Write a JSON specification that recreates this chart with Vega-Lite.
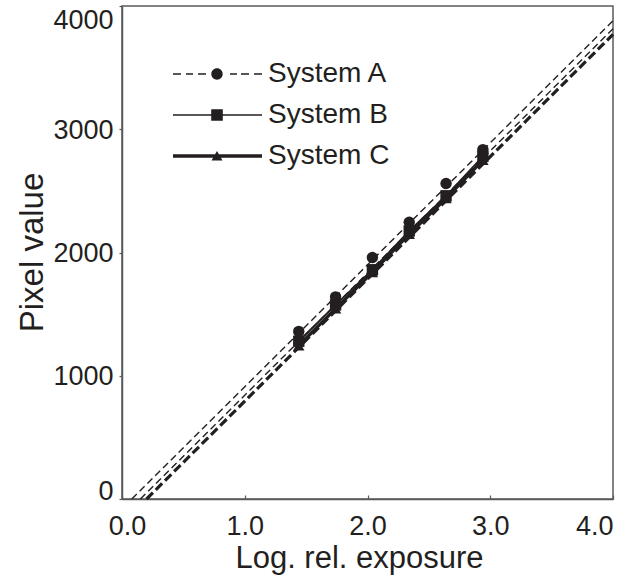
{
  "$schema": "https://vega.github.io/schema/vega-lite/v6.json",
  "width": 491,
  "height": 493,
  "autosize": {"type": "none"},
  "padding": {"left": 122, "top": 6, "right": 17, "bottom": 81},
  "background": "white",
  "config": {
    "view": {"stroke": "#58595b", "strokeWidth": 1.5},
    "font": "Liberation Sans",
    "axis": {
      "domainColor": "#58595b", "domainWidth": 1.5,
      "tickColor": "#58595b", "tickWidth": 1.2,
      "labelColor": "#231f20", "titleColor": "#231f20",
      "labelFont": "Liberation Sans", "titleFont": "Liberation Sans",
      "labelFontSize": 27, "titleFontSize": 30, "titleFontWeight": "normal",
      "grid": false, "labelFlush": false
    }
  },
  "datasets": {
    "fits": [
      {"system": "System A", "x": 0.08, "y": 0},
      {"system": "System A", "x": 4.0, "y": 3880},
      {"system": "System B", "x": 0.15, "y": 0},
      {"system": "System B", "x": 4.0, "y": 3815},
      {"system": "System C", "x": 0.2, "y": 0},
      {"system": "System C", "x": 4.0, "y": 3770}
    ],
    "points": [
      {"system": "System C", "x": 1.44, "y": 1245},
      {"system": "System C", "x": 1.74, "y": 1545},
      {"system": "System C", "x": 2.04, "y": 1840},
      {"system": "System C", "x": 2.34, "y": 2150},
      {"system": "System C", "x": 2.64, "y": 2440},
      {"system": "System C", "x": 2.94, "y": 2750},
      {"system": "System B", "x": 1.44, "y": 1280},
      {"system": "System B", "x": 1.74, "y": 1575},
      {"system": "System B", "x": 2.04, "y": 1860},
      {"system": "System B", "x": 2.34, "y": 2175},
      {"system": "System B", "x": 2.64, "y": 2460},
      {"system": "System B", "x": 2.94, "y": 2780},
      {"system": "System A", "x": 1.44, "y": 1360},
      {"system": "System A", "x": 1.74, "y": 1640},
      {"system": "System A", "x": 2.04, "y": 1960},
      {"system": "System A", "x": 2.34, "y": 2245},
      {"system": "System A", "x": 2.64, "y": 2560},
      {"system": "System A", "x": 2.94, "y": 2835}
    ]
  },
  "layer": [
    {
      "data": {"name": "fits"},
      "transform": [{"filter": "datum.system === 'System A'"}],
      "mark": {"type": "line", "color": "#231f20", "strokeWidth": 1.4, "strokeDash": [7, 4]},
      "encoding": {
        "x": {
          "field": "x", "type": "quantitative",
          "scale": {"domain": [0, 4], "nice": false, "zero": false},
          "axis": {
            "title": "Log. rel. exposure",
            "values": [0, 1, 2, 3, 4], "format": ".1f",
            "tickSize": -4, "labelPadding": 18,
            "labelAlign": {"condition": {"test": "datum.value === 4", "value": "right"}, "value": "center"},
            "labelOffset": {"condition": {"test": "datum.value === 0", "value": 5}, "value": 0},
            "titleFontSize": 31, "titleAnchor": "start", "titleAlign": "center", "titleBaseline": "alphabetic",
            "titleX": 237, "titleY": 68
          }
        },
        "y": {
          "field": "y", "type": "quantitative",
          "scale": {"domain": [0, 4000], "nice": false},
          "axis": {
            "title": "Pixel value",
            "values": [0, 1000, 2000, 3000, 4000], "format": "d",
            "tickSize": 3, "labelPadding": 6,
            "labelOffset": {"condition": [{"test": "datum.value === 4000", "value": 14}, {"test": "datum.value === 0", "value": -8}], "value": 1},
            "titleFontSize": 33,
            "titleAngle": -90, "titleAlign": "center", "titleBaseline": "alphabetic",
            "titleX": -80, "titleY": 246
          }
        }
      }
    },
    {
      "data": {"name": "fits"},
      "transform": [{"filter": "datum.system === 'System B'"}],
      "mark": {"type": "line", "color": "#231f20", "strokeWidth": 1.4, "strokeDash": [7, 4]},
      "encoding": {
        "x": {"field": "x", "type": "quantitative"},
        "y": {"field": "y", "type": "quantitative"}
      }
    },
    {
      "data": {"name": "fits"},
      "transform": [{"filter": "datum.system === 'System C'"}],
      "mark": {"type": "line", "color": "#231f20", "strokeWidth": 3.2, "strokeDash": [9, 4]},
      "encoding": {
        "x": {"field": "x", "type": "quantitative"},
        "y": {"field": "y", "type": "quantitative"}
      }
    },
    {
      "data": {"name": "points"},
      "transform": [{"filter": "datum.system === 'System B'"}],
      "mark": {"type": "line", "color": "#231f20", "strokeWidth": 1.8},
      "encoding": {
        "x": {"field": "x", "type": "quantitative"},
        "y": {"field": "y", "type": "quantitative"}
      }
    },
    {
      "data": {"name": "points"},
      "transform": [{"filter": "datum.system === 'System C'"}],
      "mark": {"type": "line", "color": "#231f20", "strokeWidth": 3.4},
      "encoding": {
        "x": {"field": "x", "type": "quantitative"},
        "y": {"field": "y", "type": "quantitative"}
      }
    },
    {
      "data": {"name": "points"},
      "mark": {"type": "point", "filled": true, "opacity": 1, "color": "#231f20", "size": 130},
      "encoding": {
        "x": {"field": "x", "type": "quantitative"},
        "y": {"field": "y", "type": "quantitative"},
        "shape": {
          "field": "system", "type": "nominal",
          "scale": {"domain": ["System A", "System B", "System C"], "range": ["circle", "square", "triangle-up"]},
          "legend": null
        }
      }
    },
    {
      "data": {"name": "points"},
      "mark": {"type": "point", "filled": true, "opacity": 0, "color": "#231f20"},
      "encoding": {
        "x": {"field": "x", "type": "quantitative"},
        "y": {"field": "y", "type": "quantitative"},
        "shape": {
          "field": "system", "type": "nominal",
          "scale": {
            "domain": ["System A", "System B", "System C"],
            "range": [
              "M-1,-0.065H-0.2V0.065H-1Z M0.3,-0.065H1V0.065H0.3Z M1.5,-0.065H2.3V0.065H1.5Z M2.83,0A0.57,0.57 0 1,1 3.97,0A0.57,0.57 0 1,1 2.83,0Z M4.7,-0.065H5.4V0.065H4.7Z M5.8,-0.065H6.6V0.065H5.8Z M7.1,-0.065H7.9V0.065H7.1Z",
              "M-1,-0.07H7.9V0.07H-1Z M2.82,-0.58H3.98V0.58H2.82Z",
              "M-1,-0.17H7.9V0.17H-1Z M3.4,-0.5L3.95,0.45L2.85,0.45Z"
            ]
          },
          "legend": {
            "title": null,
            "orient": "none",
            "legendX": 47,
            "legendY": 54,
            "padding": 0,
            "symbolSize": 400,
            "symbolStrokeWidth": 0,
            "symbolOpacity": 1,
            "symbolFillColor": "#231f20",
            "labelFont": "Liberation Sans",
            "labelFontSize": 28,
            "labelColor": "#231f20",
            "labelOffset": 71,
            "labelLimit": 300,
            "rowPadding": 13
          }
        }
      }
    }
  ],
  "resolve": {"scale": {"shape": "independent"}}
}
